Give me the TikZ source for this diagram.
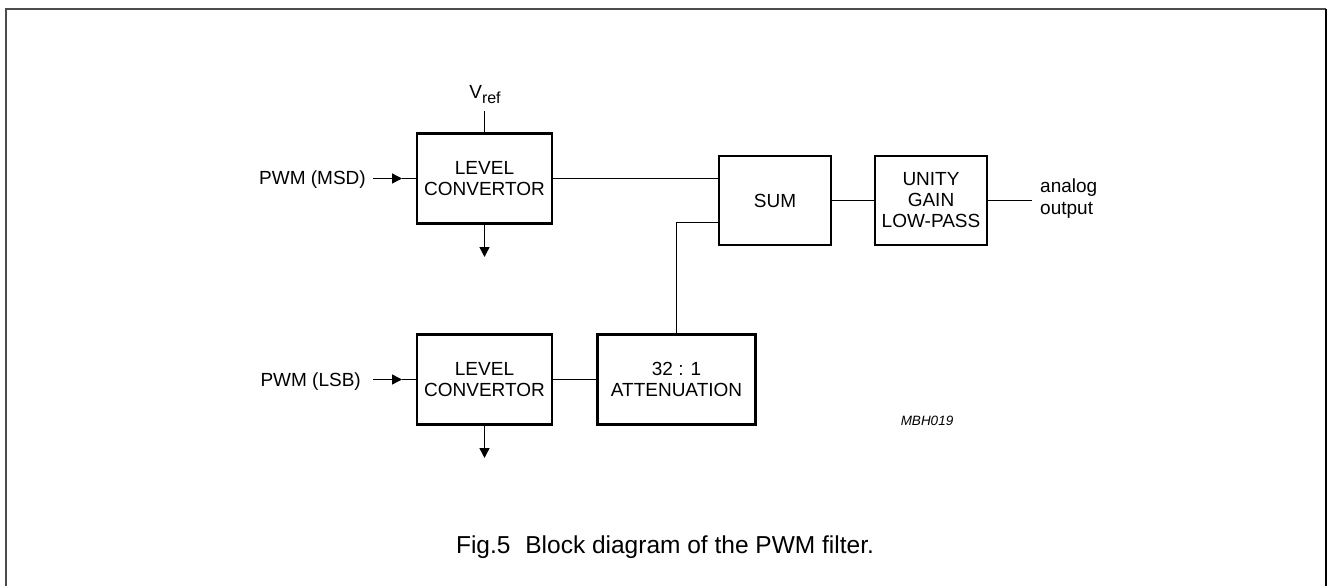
\documentclass[tikz,border=0pt]{standalone}
\usepackage{fontspec}
\setmainfont{Liberation Sans}
\usetikzlibrary{arrows.meta}
\begin{document}
\begin{tikzpicture}[x=1bp,y=-1bp,
  blk/.style={draw, line width=2.6bp, inner sep=0pt, outer sep=0pt, align=center,
    font=\fontsize{19bp}{21bp}\selectfont},
  lbl/.style={inner sep=0pt, font=\fontsize{19bp}{21bp}\selectfont},
  wire/.style={line width=1.4bp},
  arr/.style={wire, -{Triangle[length=10bp,width=10bp]}}]
\useasboundingbox (0,0) rectangle (1330,586);
% frame
\draw[line width=2bp, black!70] (5.5,586) -- (5.5,9) -- (1325.7,9);
\draw[line width=2bp] (1325.7,9) -- (1325.7,586);
% blocks
\node[blk, minimum width=135bp, minimum height=90bp] (lc1) at (484.5,178.5) {LEVEL\\CONVERTOR};
\node[blk, minimum width=135bp, minimum height=90bp] (lc2) at (484.5,379.5) {LEVEL\\CONVERTOR};
\node[blk, minimum width=158bp, minimum height=90bp] (att) at (676.5,379.5) {32 : 1\\ATTENUATION};
\node[blk, minimum width=112bp, minimum height=89bp] (sum) at (775,200.5) {SUM};
\node[blk, minimum width=112bp, minimum height=89bp] (lp) at (931,200.5) {UNITY\\GAIN\\LOW-PASS};
% labels
\node[lbl, anchor=base east] (in1) at (366,185) {PWM (MSD)};
\node[lbl, anchor=base east] (in2) at (361,386) {PWM (LSB)};
\node[lbl, anchor=base] (vref) at (485,98.5) {V\raisebox{-5bp}{\fontsize{16bp}{16bp}\selectfont ref}};
\node[lbl, anchor=base west, align=left] (out) at (1040,214) {analog\\output};
\node[inner sep=0pt, anchor=base, font=\fontsize{13.5bp}{14bp}\selectfont\itshape] (code) at (927,425) {MBH019};
\node[inner sep=0pt, anchor=base, font=\fontsize{24.5bp}{26bp}\selectfont] (cap) at (665,553) {Fig.5\hspace{8bp} Block diagram of the PWM filter.};
% coordinates
\coordinate (a1s) at (373,178.5);
\coordinate (a1m) at (402,178.5);
\coordinate (a2s) at (373,379.5);
\coordinate (a2m) at (402,379.5);
\coordinate (d1) at (484.5,257);
\coordinate (d2) at (484.5,458);
\coordinate (vtop) at (484.5,111.5);
\coordinate (oend) at (1032,200.5);
% connectors
\draw[arr] (a1s) -- (a1m);
\draw[wire] (a1m) -- (lc1.west);
\draw[arr] (a2s) -- (a2m);
\draw[wire] (a2m) -- (lc2.west);
\draw[wire] (vtop) -- (lc1.north);
\draw[arr] (lc1.south) -- (d1);
\draw[arr] (lc2.south) -- (d2);
\draw[wire] (lc1.east) -- (lc1.east -| sum.west);
\draw[wire] (lc2.east) -- (att.west);
\draw[wire] (att.north) |- ([yshift=-22bp]sum.west);
\draw[wire] (sum.east) -- (lp.west);
\draw[wire] (lp.east) -- (oend);
\end{tikzpicture}
\end{document}
